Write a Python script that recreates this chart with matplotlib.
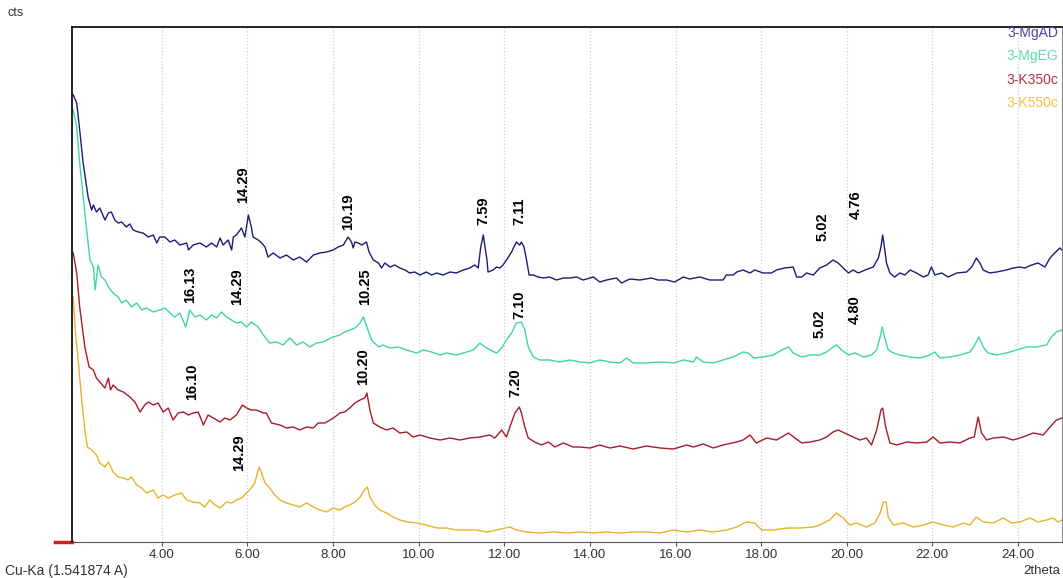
import numpy as np
import matplotlib.pyplot as plt

# 2theta / counts, one pair of lists per sample
mgad_x = [1.93, 2.01, 2.08, 2.16, 2.28, 2.36, 2.40, 2.47, 2.55, 2.67, 2.75, 2.82, 2.90, 2.98, 3.06, 3.17, 3.25, 3.33, 3.45, 3.56,
          3.68, 3.80, 3.88, 3.95, 4.07, 4.19, 4.30, 4.42, 4.58, 4.62, 4.73, 4.89, 5.04, 5.16, 5.28, 5.36, 5.43, 5.55, 5.63, 5.67,
          5.74, 5.86, 5.94, 6.02, 6.09, 6.13, 6.25, 6.33, 6.41, 6.48, 6.60, 6.76, 6.91, 7.07, 7.22, 7.38, 7.54, 7.69,
          7.85, 8.00, 8.12, 8.24, 8.35, 8.43, 8.47, 8.51, 8.59, 8.67, 8.78, 8.84, 8.94, 9.06, 9.13, 9.21, 9.33, 9.44, 9.56, 9.68,
          9.79, 9.91, 10.03, 10.18, 10.30, 10.42, 10.57, 10.73, 10.88, 11.04, 11.19, 11.31, 11.39, 11.45, 11.51, 11.55, 11.59, 11.62, 11.74, 11.82,
          11.90, 11.97, 12.05, 12.17, 12.28, 12.36, 12.40, 12.46, 12.52, 12.58, 12.68, 12.79, 12.91, 13.06, 13.22, 13.38, 13.53, 13.69, 13.84,
          14.08, 14.23, 14.39, 14.62, 14.74, 14.93, 15.17, 15.44, 15.59, 15.79, 15.98, 16.18, 16.33, 16.57, 16.80, 17.11, 17.19, 17.35, 17.43, 17.58,
          17.74, 17.85, 18.05, 18.24, 18.36, 18.55, 18.75, 18.83, 18.95, 19.06, 19.22,
          19.37, 19.53, 19.68, 19.80, 19.92, 20.04, 20.15, 20.27, 20.43, 20.62, 20.74, 20.80, 20.84, 20.88, 20.93, 21.01, 21.12, 21.24, 21.36, 21.48,
          21.63, 21.79, 21.90, 21.98, 22.06, 22.22, 22.37, 22.57, 22.80, 22.92, 23.03, 23.11, 23.19, 23.34, 23.50, 23.73, 23.89, 24.04, 24.16, 24.32,
          24.47, 24.63, 24.75, 24.86, 24.98, 25.03]
mgad_y = [447, 439, 412, 379, 344, 332, 337, 330, 334, 322, 329, 330, 322, 319, 320, 315, 318, 312, 310, 309,
          305, 307, 299, 305, 305, 300, 302, 297, 299, 292, 297, 299, 295, 299, 295, 304, 297, 302, 292, 305,
          307, 314, 305, 327, 315, 305, 302, 299, 295, 285, 289, 284, 287, 282, 285, 280, 287, 289,
          290, 292, 295, 297, 305, 300, 294, 300, 299, 297, 300, 290, 282, 279, 274, 279, 275, 277, 274, 272,
          269, 270, 267, 270, 267, 269, 267, 270, 269, 272, 274, 277, 274, 295, 307, 295, 284, 270, 272, 275,
          274, 277, 282, 290, 300, 297, 300, 295, 282, 267, 267, 265, 264, 265, 262, 264, 264, 265, 262,
          265, 260, 262, 264, 259, 263, 262, 264, 262, 262, 260, 265, 263, 265, 262, 262, 267, 267, 270, 272,
          269, 272, 269, 269, 272, 274, 275, 265, 265, 269, 267,
          274, 277, 282, 279, 274, 269, 272, 269, 272, 275, 284, 295, 307, 295, 279, 269, 265, 269, 267, 272,
          269, 265, 267, 275, 267, 269, 265, 269, 270, 275, 284, 279, 272, 269, 270, 272, 274, 275, 274, 277,
          279, 275, 284, 289, 294, 292]

mgeg_x = [1.93, 2.01, 2.08, 2.20, 2.32, 2.40, 2.44, 2.51, 2.59, 2.67, 2.75, 2.86, 2.98, 3.06, 3.17, 3.29, 3.41, 3.53, 3.64, 3.80,
          3.95, 4.07, 4.19, 4.30, 4.42, 4.56, 4.65, 4.77, 4.89, 5.04, 5.16, 5.28, 5.39, 5.51, 5.63, 5.74, 5.86, 5.98, 6.09, 6.25,
          6.37, 6.52, 6.68, 6.83, 6.99, 7.15, 7.30, 7.46, 7.61, 7.77,
          7.85, 8.00, 8.16, 8.27, 8.39, 8.51, 8.63, 8.71, 8.79, 8.90, 9.06, 9.17, 9.33, 9.52, 9.72, 9.95, 10.11, 10.30, 10.50, 10.65,
          10.88, 11.12, 11.28, 11.43, 11.55, 11.67, 11.82, 11.94, 12.05, 12.17, 12.28, 12.40, 12.48, 12.56, 12.68, 12.83, 13.06, 13.30, 13.53,
          13.77, 14.00, 14.23, 14.47, 14.70, 14.86, 15.01, 15.32, 15.64, 15.95, 16.18, 16.42, 16.49, 16.65, 16.88, 17.11, 17.35, 17.58, 17.70, 17.82,
          18.05, 18.29, 18.48, 18.64, 18.75, 18.95, 19.14,
          19.37, 19.53, 19.65, 19.76, 19.88, 20.04, 20.19, 20.39, 20.58, 20.70, 20.78, 20.83, 20.89, 20.97, 21.09, 21.24, 21.48, 21.71, 21.94, 22.06,
          22.18, 22.41, 22.64, 22.88, 22.99, 23.09, 23.19, 23.30, 23.50, 23.73, 23.97, 24.20, 24.43, 24.67, 24.78, 24.90, 25.03]
mgeg_y = [432, 415, 379, 329, 282, 275, 252, 277, 265, 262, 255, 249, 245, 239, 242, 235, 239, 232, 234, 230,
          232, 234, 229, 225, 229, 215, 232, 225, 227, 222, 227, 224, 230, 225, 222, 219, 220, 215, 220, 215,
          207, 199, 200, 197, 204, 197, 200, 195, 199, 200,
          202, 205, 207, 210, 212, 214, 219, 225, 215, 202, 195, 197, 194, 195, 192, 189, 192, 190, 187, 189,
          187, 190, 192, 199, 195, 192, 189, 194, 202, 209, 219, 220, 212, 195, 185, 182, 182, 180, 182,
          180, 179, 182, 180, 179, 184, 179, 179, 180, 179, 182, 180, 185, 180, 179, 182, 185, 190, 189, 184,
          185, 187, 192, 195, 189, 185, 187,
          187, 190, 194, 197, 192, 187, 189, 185, 187, 192, 205, 215, 204, 192, 189, 187, 185, 184, 187, 190,
          184, 185, 187, 190, 197, 205, 195, 189, 187, 189, 192, 195, 195, 197, 205, 210, 212]

k350_x = [1.93, 2.01, 2.08, 2.20, 2.30, 2.40, 2.47, 2.55, 2.67, 2.75, 2.80, 2.86, 2.98, 3.10, 3.25, 3.37, 3.49, 3.60, 3.68, 3.80,
          3.91, 4.03, 4.15, 4.26, 4.38, 4.50, 4.62, 4.73, 4.85, 4.97, 5.08, 5.20, 5.36, 5.47, 5.59, 5.74, 5.88, 5.98, 6.09, 6.21,
          6.37, 6.44, 6.56, 6.76, 6.91, 7.07, 7.22, 7.38, 7.54, 7.65,
          7.81, 7.93, 8.04, 8.16, 8.27, 8.39, 8.51, 8.63, 8.74, 8.79, 8.86, 8.94, 9.09, 9.25, 9.40, 9.56, 9.72, 9.87, 10.03, 10.26,
          10.50, 10.73, 10.96, 11.19, 11.43, 11.66, 11.78, 11.94, 12.05, 12.13, 12.25, 12.35, 12.40, 12.48, 12.56, 12.71, 12.87, 13.03, 13.18, 13.38,
          13.61,
          13.77, 14.00, 14.23, 14.47, 14.70, 15.01, 15.32, 15.64, 15.95, 16.26, 16.42, 16.65, 16.88, 17.11, 17.43, 17.58, 17.74, 17.89, 18.13, 18.36,
          18.64, 18.79, 18.95, 19.14,
          19.37, 19.53, 19.68, 19.80, 19.95, 20.15, 20.31, 20.46, 20.58, 20.70, 20.80, 20.84, 20.91, 21.01, 21.17, 21.40, 21.63, 21.87, 22.02, 22.18,
          22.41, 22.64, 22.88, 22.98, 23.07, 23.15, 23.27, 23.43, 23.66, 23.89, 24.12, 24.36, 24.59, 24.75, 24.90, 25.03]
k350_y = [289, 269, 235, 195, 175, 172, 164, 160, 154, 164, 152, 157, 152, 150, 145, 140, 130, 137, 140, 137,
          139, 130, 134, 122, 129, 130, 127, 129, 130, 117, 127, 124, 120, 124, 122, 127, 137, 134, 132, 132,
          129, 129, 119, 117, 114, 115, 112, 115, 114, 119,
          119, 122, 125, 129, 130, 134, 139, 142, 144, 149, 132, 119, 115, 112, 114, 109, 110, 105, 107, 104,
          102, 104, 102, 104, 105, 107, 104, 112, 105, 115, 129, 135, 129, 115, 104, 100, 97, 100, 95, 99,
          95,
          95, 94, 97, 94, 96, 93, 96, 94, 93, 97, 95, 98, 94, 97, 100, 102, 107, 99, 104, 102,
          109, 104, 99, 100,
          102, 105, 110, 112, 109, 105, 102, 104, 97, 112, 132, 134, 115, 99, 97, 100, 99, 100, 105, 99,
          100, 99, 104, 105, 125, 109, 102, 104, 105, 102, 105, 109, 107, 115, 122, 124]

k550_x = [1.93, 1.97, 2.05, 2.12, 2.20, 2.26, 2.36, 2.47, 2.55, 2.67, 2.75, 2.86, 2.98, 3.10, 3.21, 3.29, 3.41, 3.53, 3.64, 3.80, 3.91,
          4.03, 4.15, 4.30, 4.46, 4.58, 4.73, 4.89, 5.00, 5.12, 5.24, 5.36, 5.51, 5.63, 5.74, 5.86, 5.98, 6.09, 6.17, 6.27, 6.33,
          6.41, 6.52, 6.64, 6.76, 6.91, 7.07, 7.22, 7.38, 7.54,
          7.69, 7.85, 8.00, 8.16, 8.27, 8.39, 8.51, 8.63, 8.73, 8.80, 8.86, 8.97, 9.09, 9.25, 9.40, 9.56, 9.75, 9.95, 10.18, 10.42,
          10.65, 10.88, 11.12, 11.35, 11.59, 11.82, 12.02, 12.13, 12.28, 12.52, 12.83, 13.14, 13.45,
          13.77, 14.08, 14.39, 14.70, 15.01, 15.32, 15.64, 15.95, 16.26, 16.57, 16.88, 17.19, 17.43, 17.65, 17.85, 18.01, 18.29, 18.60, 18.92, 19.22,
          19.37, 19.60, 19.76, 19.92, 20.07, 20.23, 20.46, 20.66, 20.78, 20.86, 20.92, 20.97, 21.09, 21.32, 21.56, 21.79, 22.02, 22.26, 22.49, 22.72,
          22.88, 23.03, 23.19, 23.42, 23.66, 23.85, 24.04, 24.28, 24.47, 24.67, 24.82, 24.94, 25.03]
k550_y = [245, 215, 179, 145, 112, 95, 92, 87, 79, 75, 80, 70, 65, 64, 62, 65, 57, 54, 49, 52, 44,
          47, 44, 47, 49, 42, 40, 39, 35, 42, 37, 34, 40, 39, 42, 44, 49, 54, 59, 75, 69,
          59, 54, 47, 42, 39, 37, 35, 39, 35,
          32, 30, 34, 32, 35, 37, 40, 45, 52, 55, 45, 37, 32, 29, 25, 22, 20, 19, 17, 14,
          14, 12, 12, 12, 10, 12, 14, 15, 12, 10, 9, 10, 9,
          10, 9, 10, 9, 10, 10, 9, 12, 10, 12, 10, 12, 15, 20, 19, 12, 12, 14, 14, 15,
          17, 22, 29, 24, 17, 19, 15, 19, 29, 40, 40, 25, 17, 19, 15, 17, 20, 17, 15, 19,
          17, 25, 20, 19, 24, 19, 20, 24, 20, 22, 24, 20, 22]

names = ['3-MgAD', '3-MgEG', '3-K350c', '3-K550c']
colors = ['#1c1c78', '#3ed89c', '#a81a2a', '#e6b42a']
label_colors = ['#4646a8', '#5ce0aa', '#b83040', '#f0c040']

# d-spacing labels (text, 2theta, counts at label centre)
peak_text = ['14.29', '10.19', '7.59', '7.11', '5.02', '4.76',
             '16.13', '14.29', '10.25', '7.10', '5.02', '4.80',
             '16.10', '10.20', '7.20',
             '14.29']
peak_x = [5.89, 8.35, 11.52, 12.36, 19.44, 20.21,
          4.65, 5.75, 8.74, 12.36, 19.37, 20.19,
          4.70, 8.70, 12.25,
          5.80]
peak_y = [357, 330, 331, 331, 315, 337,
          257, 255, 255, 237, 218, 232,
          160, 175, 159,
          89]

xticks = [4, 6, 8, 10, 12, 14, 16, 18, 20, 22, 24]

plt.rcParams['font.family'] = ['Liberation Sans', 'DejaVu Sans']

fig = plt.figure(figsize=(10.63, 5.78), dpi=100)
ax = fig.add_axes([72 / 1063, 1 - 542 / 578, 990 / 1063, 515 / 578])

for xs, ys, c in zip([mgad_x, mgeg_x, k350_x, k550_x], [mgad_y, mgeg_y, k350_y, k550_y], colors):
    ax.plot(xs, ys, color=c, lw=1.0)

ax.set_xlim(1.9, 25.03)
ax.set_ylim(0, 515)
ax.set_yticks([])
ax.set_xticks(xticks)
ax.set_xticklabels(['%.2f' % t for t in xticks], fontsize=9.5, color='#333333')
ax.tick_params(axis='x', direction='out', length=3, width=0.8, color='#555555', pad=2)
ax.grid(axis='x', color='#cfcfcf', linestyle=':', lw=0.9)

for s in ['left', 'top']:
    ax.spines[s].set_color('black')
    ax.spines[s].set_linewidth(1.2)
ax.spines['bottom'].set_color('#555555')
ax.spines['right'].set_color('#888888')

# red zero marker left of the baseline
ax.plot([-0.017, 0], [0, 0], transform=ax.transAxes, color='#d02020', lw=2.5, clip_on=False)

for t, px, py in zip(peak_text, peak_x, peak_y):
    ax.text(px, py, t, rotation=90, ha='center', va='center', fontsize=10.5,
            fontweight='bold', color='black')

for i, (n, c) in enumerate(zip(names, label_colors)):
    ax.text(0.996, 0.988 - i * 0.045, n, transform=ax.transAxes, ha='right', va='center',
            fontsize=10, color=c)

fig.text(0.0075, 0.977, 'cts', fontsize=9, color='#333333', va='center')
fig.text(0.005, 0.012, 'Cu-Ka (1.541874 A)', fontsize=10, color='#333333', va='center')
fig.text(0.997, 0.012, '2theta', fontsize=9.5, color='#333333', va='center', ha='right')

fig.savefig('out.png', dpi=100)
